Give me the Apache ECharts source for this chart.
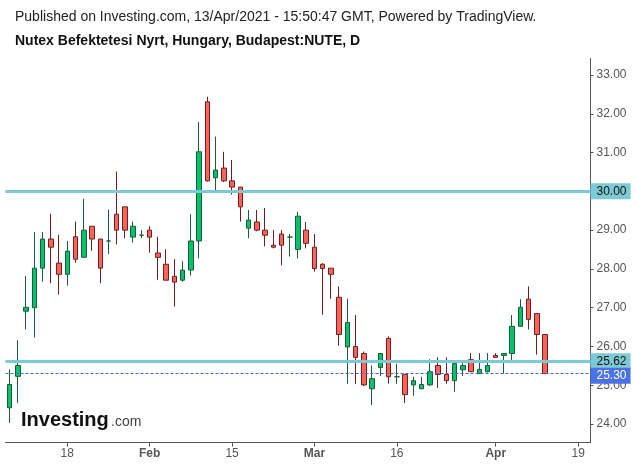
<!DOCTYPE html>
<html>
<head>
<meta charset="utf-8">
<script src="https://cdn.jsdelivr.net/npm/echarts@6/dist/echarts.min.js"></script>
<style>
html,body{margin:0;padding:0;background:#fff;}
#chart{width:635px;height:467px;}
</style>
</head>
<body>
<div id="chart"></div>
<script>
// trading days (category axis), incl. a few future slots at the right
const dates = [
 '01-07','01-08','01-11','01-12','01-13','01-14','01-15','01-18','01-19','01-20','01-21','01-22','01-25','01-26','01-27','01-28','01-29',
 '02-01','02-02','02-03','02-04','02-05','02-08','02-09','02-10','02-11','02-12','02-15','02-16','02-17','02-18','02-19','02-22','02-23','02-24','02-25','02-26',
 '03-01','03-02','03-03','03-04','03-05','03-08','03-09','03-10','03-11','03-12','03-16','03-17','03-18','03-19','03-22','03-23','03-24','03-25','03-26','03-29','03-30','03-31',
 '04-01','04-06','04-07','04-08','04-09','04-12','04-13',
 '04-14','04-15','04-16','04-19','04-20'
];
const openV  = [24.42,25.23,26.91,27.00,28.02,28.77,28.15,27.86,28.83,28.30,29.10,28.77,28.72,29.41,29.60,28.82,28.87,29.00,28.41,28.12,27.81,27.71,27.97,28.72,32.31,30.35,30.60,30.27,30.11,29.05,29.21,29.00,28.61,28.90,28.82,28.50,29.00,28.56,28.12,28.02,27.27,25.99,26.00,25.82,24.91,25.46,26.21,25.22,25.28,25.01,24.91,25.01,25.51,25.28,25.12,25.40,25.66,25.30,25.35,25.77,25.77,25.82,26.52,27.22,26.85,26.31];
const closeV = [25.02,25.51,27.01,28.02,28.77,28.56,27.86,28.46,28.25,29.00,28.77,28.02,28.72,29.00,29.00,29.10,28.87,28.82,28.30,27.71,27.66,27.97,28.72,31.02,30.27,30.55,30.27,30.11,29.60,29.26,29.00,28.87,28.56,28.61,28.82,29.36,28.66,28.01,28.01,27.86,26.31,26.62,25.72,25.01,25.17,25.82,25.22,25.22,24.76,25.12,25.02,25.35,25.28,25.12,25.56,25.51,25.35,25.41,25.51,25.72,25.82,26.52,27.01,26.70,26.31,25.30];
const lowV   = [24.03,24.54,26.44,26.23,27.67,27.63,27.34,27.57,28.16,28.30,28.47,27.63,28.38,28.63,28.79,28.68,28.79,28.42,27.72,27.71,27.03,27.67,27.83,28.27,30.25,30.03,30.24,29.92,29.22,28.79,28.97,28.58,28.53,28.09,28.32,28.27,28.53,27.93,26.82,27.23,26.02,25.04,25.04,24.98,24.49,25.24,25.04,25.04,24.54,24.72,24.91,24.98,24.93,25.04,24.83,25.24,25.35,25.30,25.33,25.72,25.30,25.64,26.52,26.44,25.79,25.30];
const highV  = [25.41,26.16,27.82,28.95,28.95,29.42,28.88,28.72,29.22,29.81,29.10,28.77,29.53,30.51,29.60,29.22,29.00,29.10,28.83,28.51,28.25,28.20,29.41,31.79,32.44,31.41,31.02,30.81,30.11,29.52,29.52,29.57,29.00,29.00,28.90,29.47,29.21,28.90,28.15,28.02,27.55,27.23,26.81,25.87,25.51,25.82,26.26,25.56,25.28,25.22,25.22,25.67,25.72,25.72,25.56,25.58,25.83,25.83,25.83,25.83,25.82,26.81,27.22,27.55,26.85,26.31];

const xTickIndex = [7,17,27,37,47,59,69];
const xTickText  = ['18','Feb','15','Mar','16','Apr','19'];
const monthLabels = ['Feb','Mar','Apr'];
const yTicks = [24,25,26,27,28,29,30,31,32,33];
const levelLines = [30.00, 25.62];
const lastPrice = 25.30;

const FONT = 'Liberation Sans, Arial, sans-serif';
const candleData = openV.map((o,i)=>[o, closeV[i], lowV[i], highV[i]]);

const chart = echarts.init(document.getElementById('chart'), null, {renderer:'canvas'});
chart.setOption({
  animation:false,
  backgroundColor:'#ffffff',
  textStyle:{fontFamily:FONT},
  grid:{left:5.5, right:44.5, top:58.3, bottom:24.3, containLabel:false},
  graphic:[
    {type:'text', left:15, top:10, silent:true, style:{text:'Published on Investing.com, 13/Apr/2021 - 15:50:47 GMT, Powered by TradingView.', font:'14px '+FONT, fill:'#222'}},
    {type:'text', left:15, top:34, silent:true, style:{text:'Nutex Befektetesi Nyrt, Hungary, Budapest:NUTE, D', font:'bold 14px '+FONT, fill:'#111'}},
    {type:'text', left:21, top:410, silent:true, z:0, style:{text:'Investing', font:'bold 20px '+FONT, fill:'#111'}},
    {type:'text', left:111, top:415, silent:true, z:0, style:{text:'.com', font:'14px '+FONT, fill:'#444'}}
  ],
  xAxis:{
    type:'category',
    data:dates,
    boundaryGap:true,
    axisLine:{show:true, lineStyle:{color:'#555', width:1}},
    axisTick:{show:true, alignWithLabel:true, length:4, lineStyle:{color:'#555'},
      interval:(i)=>xTickIndex.includes(i)},
    axisLabel:{
      show:true, margin:5, fontSize:12, color:'#555', fontFamily:FONT,
      interval:(i)=>xTickIndex.includes(i),
      formatter:(v,i)=>{
        const k = xTickIndex.indexOf(i);
        if(k<0) return '';
        const t = xTickText[k];
        return monthLabels.includes(t) ? '{m|'+t+'}' : '{d|'+t+'}';
      },
      rich:{
        m:{fontWeight:'bold', color:'#555', fontSize:12, fontFamily:FONT},
        d:{color:'#555', fontSize:12, fontFamily:FONT}
      }
    },
    splitLine:{show:false}
  },
  yAxis:{
    type:'value',
    position:'right',
    min:23.52, max:33.43,
    scale:true,
    axisLine:{show:true, lineStyle:{color:'#555', width:1}},
    axisTick:{show:true, length:3, lineStyle:{color:'#555'}, customValues:yTicks},
    axisLabel:{show:true, margin:6, fontSize:12, color:'#555', fontFamily:FONT,
      customValues:yTicks, formatter:(v)=>v.toFixed(2)},
    splitLine:{show:false}
  },
  series:[{
    type:'candlestick',
    data:candleData,
    barWidth:5,
    itemStyle:{
      color:'#00c46a', color0:'#ff6258',
      borderColor:'#1d5c3a', borderColor0:'#6e2020', borderColorDoji:'#1d5c3a',
      borderWidth:1
    },
    emphasis:{disabled:true},
    markLine:{
      silent:true, symbol:'none', animation:false,
      data:[
        {yAxis:levelLines[0], lineStyle:{color:'#7ccad5', width:3, type:'solid'},
         label:{show:true, position:'end', distance:0, formatter:levelLines[0].toFixed(2), color:'#111', fontSize:12, fontFamily:FONT, backgroundColor:'#7ccad5', padding:[2,4,2,6]}},
        {yAxis:levelLines[1], lineStyle:{color:'#7ccad5', width:3, type:'solid'},
         label:{show:true, position:'end', distance:0, formatter:levelLines[1].toFixed(2), color:'#111', fontSize:12, fontFamily:FONT, backgroundColor:'#7ccad5', padding:[2,4,2,6]}},
        {yAxis:lastPrice, lineStyle:{color:'#3f66dd', width:1, type:[3,2]},
         label:{show:true, position:'end', distance:0, offset:[0,2], formatter:lastPrice.toFixed(2), color:'#fff', fontSize:12, fontFamily:FONT, backgroundColor:'#4a72e6', padding:[2,4,2,6]}}
      ]
    }
  }]
});
</script>
</body>
</html>
